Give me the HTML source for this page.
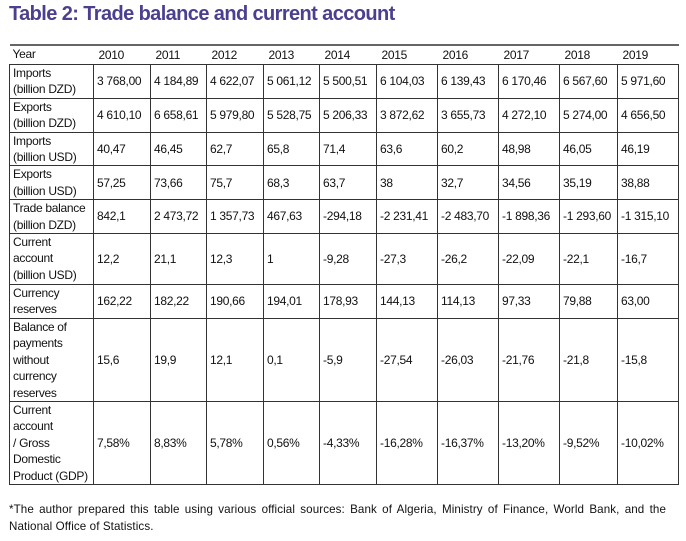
<!DOCTYPE html>
<html><head><meta charset="utf-8"><style>
body{margin:0;width:686px;height:541px;background:#fff;position:relative;font-family:"Liberation Sans",sans-serif;color:#111;overflow:hidden}
.t{position:absolute;left:9px;top:3px;font-size:20px;font-weight:bold;color:#4b3f8f;letter-spacing:-0.6px}
table{position:absolute;left:9px;top:44px;border-collapse:collapse;table-layout:fixed;width:669px;font-size:12px;letter-spacing:-0.3px}
td{border:1.3px solid #333;padding:0 0 0 3px;line-height:16.4px;vertical-align:middle;white-space:nowrap;overflow:hidden}
tr.h td{border:none;border-top:2px solid #666;height:18px}
tr.h td:not(:first-child){padding-left:5px}
td:first-child{vertical-align:top}
.f{position:absolute;left:9px;top:501px;width:657px;font-size:11.6px;line-height:17px;text-align:justify;text-align-last:left;letter-spacing:0.1px}
</style></head><body>
<div class="t">Table 2: Trade balance and current account</div>
<table>
<colgroup><col style="width:84px"><col style="width:57px"><col style="width:56px"><col style="width:57px"><col style="width:56px"><col style="width:57px"><col style="width:61px"><col style="width:61px"><col style="width:61px"><col style="width:58px"><col style="width:61px"></colgroup>
<tr class="h"><td>Year</td><td>2010</td><td>2011</td><td>2012</td><td>2013</td><td>2014</td><td>2015</td><td>2016</td><td>2017</td><td>2018</td><td>2019</td></tr>
<tr style="height:33px"><td>Imports<br>(billion DZD)</td><td>3 768,00</td><td>4 184,89</td><td>4 622,07</td><td>5 061,12</td><td>5 500,51</td><td>6 104,03</td><td>6 139,43</td><td>6 170,46</td><td>6 567,60</td><td>5 971,60</td></tr>
<tr style="height:33px"><td>Exports<br>(billion DZD)</td><td>4 610,10</td><td>6 658,61</td><td>5 979,80</td><td>5 528,75</td><td>5 206,33</td><td>3 872,62</td><td>3 655,73</td><td>4 272,10</td><td>5 274,00</td><td>4 656,50</td></tr>
<tr style="height:33px"><td>Imports<br>(billion USD)</td><td>40,47</td><td>46,45</td><td>62,7</td><td>65,8</td><td>71,4</td><td>63,6</td><td>60,2</td><td>48,98</td><td>46,05</td><td>46,19</td></tr>
<tr style="height:33px"><td>Exports<br>(billion USD)</td><td>57,25</td><td>73,66</td><td>75,7</td><td>68,3</td><td>63,7</td><td>38</td><td>32,7</td><td>34,56</td><td>35,19</td><td>38,88</td></tr>
<tr style="height:33px"><td>Trade balance<br>(billion DZD)</td><td>842,1</td><td>2 473,72</td><td>1 357,73</td><td>467,63</td><td>-294,18</td><td>-2 231,41</td><td>-2 483,70</td><td>-1 898,36</td><td>-1 293,60</td><td>-1 315,10</td></tr>
<tr style="height:51px"><td>Current<br>account<br>(billion USD)</td><td>12,2</td><td>21,1</td><td>12,3</td><td>1</td><td>-9,28</td><td>-27,3</td><td>-26,2</td><td>-22,09</td><td>-22,1</td><td>-16,7</td></tr>
<tr style="height:33px"><td>Currency<br>reserves</td><td>162,22</td><td>182,22</td><td>190,66</td><td>194,01</td><td>178,93</td><td>144,13</td><td>114,13</td><td>97,33</td><td>79,88</td><td>63,00</td></tr>
<tr style="height:83px"><td>Balance of<br>payments<br>without<br>currency<br>reserves</td><td>15,6</td><td>19,9</td><td>12,1</td><td>0,1</td><td>-5,9</td><td>-27,54</td><td>-26,03</td><td>-21,76</td><td>-21,8</td><td>-15,8</td></tr>
<tr style="height:83px"><td>Current<br>account<br>/ Gross<br>Domestic<br>Product (GDP)</td><td>7,58%</td><td>8,83%</td><td>5,78%</td><td>0,56%</td><td>-4,33%</td><td>-16,28%</td><td>-16,37%</td><td>-13,20%</td><td>-9,52%</td><td>-10,02%</td></tr>
</table>
<div class="f">*The author prepared this table using various official sources: Bank of Algeria, Ministry of Finance, World Bank, and the National Office of Statistics.</div>
</body></html>
